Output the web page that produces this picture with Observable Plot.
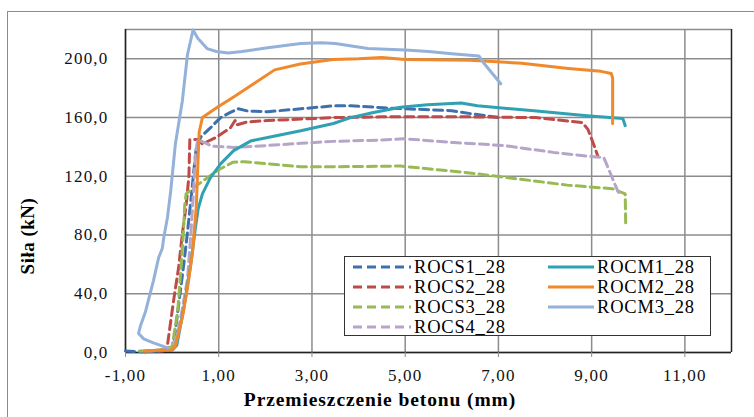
<!DOCTYPE html>
<html>
<head>
<meta charset="utf-8">
<script src="https://cdn.jsdelivr.net/npm/d3@7"></script>
<script src="https://cdn.jsdelivr.net/npm/@observablehq/plot@0.6"></script>
<style>
  body { margin: 0; background: #fff; }
  #wrap { position: relative; width: 754px; height: 417px; overflow: hidden; background: #fff; font-family: "Liberation Serif", Tinos, "Times New Roman", "DejaVu Serif", serif; }
  #border { position: absolute; left: 7px; top: 11px; width: 760px; height: 420px; border: 1.5px solid #8c8c8c; box-sizing: border-box; }
  #chart { position: absolute; left: 0; top: 0; }
  #ytitle { position: absolute; left: 28px; top: 236px; transform: translate(-50%, -50%) rotate(-90deg); font-weight: bold; font-size: 19px; white-space: nowrap; letter-spacing: 0.5px; }
  #xtitle { position: absolute; left: 380px; top: 400px; transform: translate(-50%, -50%); font-weight: bold; font-size: 19.5px; white-space: nowrap; letter-spacing: 0.9px; }
  #legend { position: absolute; left: 344px; top: 256px; width: 367px; height: 80px; border: 1.3px solid #333; box-sizing: border-box; background: #fff; }
  .item { position: absolute; display: flex; align-items: center; font-size: 18.5px; letter-spacing: 0.8px; height: 20px; }
</style>
</head>
<body>
<div id="wrap">
  <div id="border"></div>
  <div id="chart"></div>
  <div id="ytitle">Siła (kN)</div>
  <div id="xtitle">Przemieszczenie betonu (mm)</div>
  <div id="legend"></div>
</div>
<script>
// Series names, colours and dash styles
const seriesNames = ["ROCS1_28", "ROCS2_28", "ROCS3_28", "ROCS4_28", "ROCM1_28", "ROCM2_28", "ROCM3_28"];
const seriesColors = ["#3e70ad", "#bf4a47", "#97ba52", "#b4a5c9", "#2fa1b3", "#f0882c", "#93b1d9"];
const seriesDashed = [true, true, true, true, false, false, false];

// Tick values
const xTicks = [-1, 1, 3, 5, 7, 9, 11];
const yTicks = [0, 40, 80, 120, 160, 200];

// Data: [displacement mm, force kN]
const ROCS1 = [[-1.0,1],[-0.7,0.5],[-0.3,1],[0.0,3],[0.05,10],[0.15,35],[0.25,60],[0.33,82],[0.4,103],[0.47,125],[0.52,140],[0.62,147],[0.82,153],[1.04,160],[1.25,163.5],[1.42,166],[1.62,164.5],[2.05,164],[2.76,166],[3.46,168],[3.83,168],[4.54,166.7],[5.0,166],[6.0,164.7],[6.4,162.7],[6.8,161],[7.0,160]];
const ROCS2 = [[-0.6,0.5],[-0.2,1],[-0.1,5],[0.03,35],[0.14,58],[0.22,81],[0.3,100],[0.36,120],[0.38,145],[0.55,145],[0.65,142],[0.97,147],[1.25,153],[1.35,158],[1.38,155],[1.6,157],[2.05,158],[2.76,159],[3.46,160],[4.5,160.5],[6.4,160.5],[7.8,160],[8.8,156.6],[8.92,152],[9.04,142],[9.13,134]];
const ROCS3 = [[-0.7,1],[-0.3,1.5],[0.0,4],[0.12,28],[0.18,53],[0.24,80],[0.27,100],[0.3,108],[0.45,112],[0.67,117],[0.97,124],[1.3,129.5],[1.55,130],[2.05,128.5],[2.76,126.5],[3.46,126.5],[4.9,127],[6.33,122.5],[7.05,119.7],[8.48,114],[9.45,111.5],[9.72,108],[9.73,88]];
const ROCS4 = [[-0.5,1],[0.0,3],[0.12,13],[0.22,30],[0.33,50],[0.4,80],[0.46,110],[0.5,135],[0.55,145],[0.7,143],[0.85,140.5],[1.32,139.7],[2.05,141],[2.76,142.5],[3.46,143.8],[4.47,144.7],[4.97,145.6],[6.04,143],[7.11,141],[8.18,136.3],[8.98,133.5],[9.26,132.8],[9.56,110],[9.62,107]];
const ROCM1 = [[-0.55,1],[0.0,1.5],[0.1,5],[0.25,30],[0.4,60],[0.5,85],[0.56,98],[0.65,108],[0.82,119],[1.04,128.5],[1.32,137.5],[1.68,144],[2.05,146.5],[2.76,151],[3.46,156],[3.83,160],[4.32,163.5],[4.9,167],[5.48,168.8],[6.2,170],[6.55,168],[7.76,164.7],[8.9,161.3],[9.67,159.3],[9.72,154.5]];
const ROCM2 = [[-0.6,1],[0.0,2],[0.07,4.5],[0.22,24],[0.33,44],[0.44,69],[0.52,100],[0.55,126],[0.58,150],[0.65,160],[0.97,167],[1.32,174],[1.75,183],[2.2,192.5],[2.75,196.5],[3.45,199.5],[4.0,200],[4.5,201],[5.0,199.5],[6.4,199],[7.5,197],[8.5,193.5],[9.2,191.5],[9.42,190],[9.45,187],[9.45,156]];
const ROCM3 = [[-0.08,3],[-0.4,6.6],[-0.61,9.3],[-0.72,13],[-0.68,18],[-0.57,28],[-0.4,49],[-0.29,64.5],[-0.21,71],[-0.18,78],[-0.1,92],[-0.03,110],[0.07,142],[0.22,171.5],[0.33,203],[0.45,219.7],[0.55,214],[0.75,207],[0.95,205],[1.2,204],[1.5,205],[2.05,207.6],[2.76,210.4],[3.2,211],[3.5,210.5],[4.2,207],[5.0,206],[5.5,205],[6.0,203.5],[6.58,202],[6.68,197.4],[7.05,183]];

const seriesData = [ROCS1, ROCS2, ROCS3, ROCS4, ROCM1, ROCM2, ROCM3];

const rows = [];
seriesData.forEach((arr, i) => arr.forEach(([x, y]) => rows.push({ name: seriesNames[i], x, y })));

const fmtX = d => d.toFixed(2).replace(".", ",").replace("−", "-");
const fmtY = d => d.toFixed(1).replace(".", ",");

const lineMarks = seriesNames.map((n, i) =>
  Plot.line(rows.filter(r => r.name === n), {
    x: "x", y: "y",
    stroke: seriesColors[i],
    strokeWidth: 3,
    strokeDasharray: seriesDashed[i] ? "9,5" : null,
    strokeLinejoin: "round",
    curve: "linear"
  })
);

const serif = "'Liberation Serif', Tinos, 'Times New Roman', 'DejaVu Serif', serif";
const chart = Plot.plot({
  width: 754,
  height: 417,
  marginLeft: 125,
  marginRight: 23,
  marginTop: 29,
  marginBottom: 65,
  style: { fontFamily: serif, fontSize: "17px", color: "#000", background: "transparent", overflow: "visible" },
  x: { domain: [-1, 12], label: null },
  y: { domain: [0, 220], label: null },
  marks: [
    Plot.gridX(xTicks, { stroke: "#8c8c8c", strokeOpacity: 1, strokeWidth: 1.5 }),
    Plot.gridY(yTicks, { stroke: "#8c8c8c", strokeOpacity: 1, strokeWidth: 1.5 }),
    Plot.ruleY([220], { stroke: "#8c8c8c", strokeWidth: 1.5 }),
    Plot.ruleX([12], { stroke: "#222", strokeWidth: 1.5 }),
    Plot.ruleX([-1], { stroke: "#222", strokeWidth: 1.5 }),
    Plot.ruleY([0], { stroke: "#222", strokeWidth: 1.5 }),
    ...lineMarks,
    Plot.axisX(xTicks, { tickFormat: fmtX, tickSize: 5, tickPadding: 11, stroke: "#8c8c8c", label: null, fill: "#111", fontSize: 17 }),
    Plot.axisY(yTicks, { tickFormat: fmtY, tickSize: 0, tickPadding: 17, label: null, fill: "#111", fontSize: 17 })
  ]
});
chart.querySelectorAll("text").forEach(t => { t.style.letterSpacing = "1.2px"; t.style.fontFamily = serif; });
document.getElementById("chart").appendChild(chart);

// Legend
const legend = document.getElementById("legend");
const legendPos = [
  [8, 0], [8, 20], [8, 40], [8, 60],
  [203, 0], [203, 20], [203, 40]
];
seriesNames.forEach((n, i) => {
  const item = document.createElement("div");
  item.className = "item";
  item.style.left = legendPos[i][0] + "px";
  item.style.top = legendPos[i][1] + "px";
  const sw = seriesDashed[i] ? 58 : 46;
  item.innerHTML = `<svg width="${sw}" height="8" style="margin-right:3px"><line x1="0" y1="4" x2="${sw}" y2="4" stroke="${seriesColors[i]}" stroke-width="3" ${seriesDashed[i] ? 'stroke-dasharray="9,5"' : ''}/></svg><span>${n}</span>`;
  legend.appendChild(item);
});
</script>
</body>
</html>
